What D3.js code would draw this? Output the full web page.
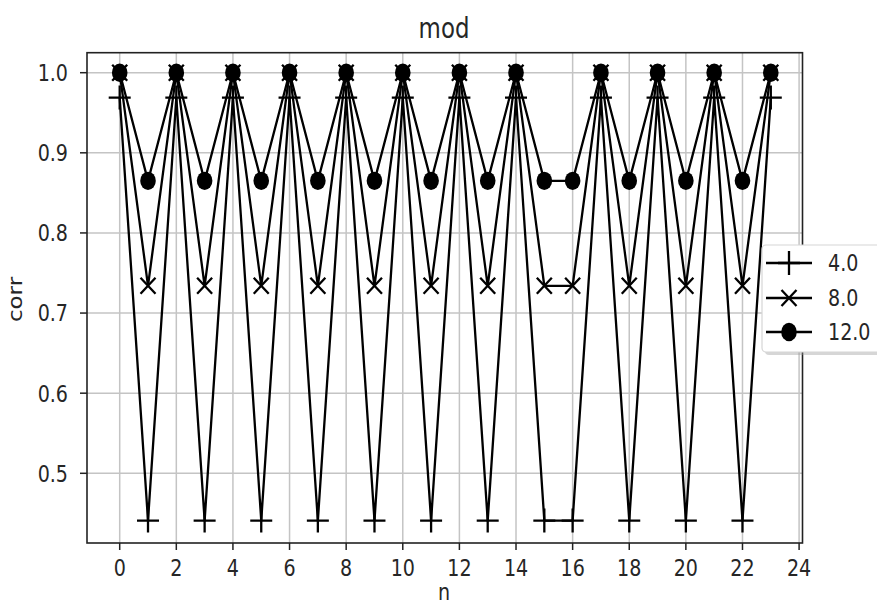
<!DOCTYPE html>
<html>
<head>
<meta charset="utf-8">
<script src="https://cdn.jsdelivr.net/npm/d3@7"></script>
<style>
  html, body { margin: 0; padding: 0; background: #fff; }
  svg { display: block; }
  text { font-family: "DejaVu Sans", sans-serif; fill: #262626; }
</style>
</head>
<body>
<div id="chart"></div>
<script>
// data
const nValues = d3.range(0, 24);
const highIdx = [0, 2, 4, 6, 8, 10, 12, 14, 17, 19, 21, 23];
const seriesNames = ['4.0', '8.0', '12.0'];
const corr4 = nValues.map(n => highIdx.includes(n) ? 0.969 : 0.441);
const corr8 = nValues.map(n => highIdx.includes(n) ? 1.0 : 0.734);
const corr12 = nValues.map(n => highIdx.includes(n) ? 1.0 : 0.865);
const xTicks = [0, 2, 4, 6, 8, 10, 12, 14, 16, 18, 20, 22, 24];
const yTicks = [0.5, 0.6, 0.7, 0.8, 0.9, 1.0];

const W = 877, H = 606;
const plot = { left: 87, right: 802.5, top: 52.7, bottom: 543 };
const SX = 0.83; // picture is squeezed sideways
const FONT = 23;
const LW = 2.3;

const x = d3.scaleLinear().domain([0, 24]).range([119.7, 799.1]);
const y = d3.scaleLinear().domain([0.5, 1.0]).range([473.3, 72.7]);

const svg = d3.select('#chart').append('svg')
  .attr('width', W).attr('height', H);

function label(g, tx, ty, str, size, anchor, rotate) {
  const t = rotate
    ? `translate(${tx},${ty}) rotate(-90) scale(1,${SX})`
    : `translate(${tx},${ty}) scale(${SX},1)`;
  return g.append('text')
    .attr('transform', t)
    .attr('text-anchor', anchor)
    .style('font-size', size + 'px')
    .text(str);
}

function marker(g, kind, cx, cy) {
  if (kind === 'plus') {
    g.append('path')
      .attr('d', `M${cx - 11},${cy}H${cx + 11}M${cx},${cy - 12}V${cy + 12}`)
      .attr('stroke', '#000').attr('stroke-width', LW).attr('fill', 'none');
  } else if (kind === 'x') {
    g.append('path')
      .attr('d', `M${cx - 7.5},${cy - 8}L${cx + 7.5},${cy + 8}M${cx - 7.5},${cy + 8}L${cx + 7.5},${cy - 8}`)
      .attr('stroke', '#000').attr('stroke-width', LW).attr('fill', 'none');
  } else {
    g.append('ellipse')
      .attr('cx', cx).attr('cy', cy).attr('rx', 7.8).attr('ry', 9.2)
      .attr('fill', '#000');
  }
}

// grid
const grid = svg.append('g');
grid.selectAll('.gx').data(xTicks).join('line')
  .attr('x1', d => x(d)).attr('x2', d => x(d))
  .attr('y1', plot.top).attr('y2', plot.bottom)
  .attr('stroke', '#c4c4c4').attr('stroke-width', 1.5);
grid.selectAll('.gy').data(yTicks).join('line')
  .attr('x1', plot.left).attr('x2', plot.right)
  .attr('y1', d => y(d)).attr('y2', d => y(d))
  .attr('stroke', '#c4c4c4').attr('stroke-width', 1.5);

// series
const series = [
  { name: seriesNames[0], values: corr4, kind: 'plus' },
  { name: seriesNames[1], values: corr8, kind: 'x' },
  { name: seriesNames[2], values: corr12, kind: 'dot' },
];
svg.append('clipPath').attr('id', 'clip').append('rect')
  .attr('x', plot.left).attr('y', plot.top)
  .attr('width', plot.right - plot.left).attr('height', plot.bottom - plot.top);
const body = svg.append('g').attr('clip-path', 'url(#clip)');
const line = d3.line().x((d, i) => x(nValues[i])).y(d => y(d));
series.forEach(s => {
  const g = body.append('g');
  g.append('path')
    .attr('d', line(s.values))
    .attr('fill', 'none').attr('stroke', '#000')
    .attr('stroke-width', LW).attr('stroke-linejoin', 'round');
  s.values.forEach((v, i) => marker(g, s.kind, x(nValues[i]), y(v)));
});

// frame
svg.append('rect')
  .attr('x', plot.left).attr('y', plot.top)
  .attr('width', plot.right - plot.left).attr('height', plot.bottom - plot.top)
  .attr('fill', 'none').attr('stroke', '#222').attr('stroke-width', 1.6);

// axes
const ax = svg.append('g');
xTicks.forEach(t => {
  ax.append('line').attr('x1', x(t)).attr('x2', x(t))
    .attr('y1', plot.bottom).attr('y2', plot.bottom + 7)
    .attr('stroke', '#222').attr('stroke-width', 1.5);
  label(ax, x(t), 576, String(t), FONT, 'middle');
});
yTicks.forEach(t => {
  ax.append('line').attr('x1', plot.left - 7).attr('x2', plot.left)
    .attr('y1', y(t)).attr('y2', y(t))
    .attr('stroke', '#222').attr('stroke-width', 1.5);
  label(ax, 68, y(t) + 8.4, d3.format('.1f')(t), FONT, 'end');
});

label(svg, 444, 38, 'mod', 27.6, 'middle');
label(svg, 444, 600, 'n', FONT, 'middle');
label(svg, 22, 299.5, 'corr', FONT, 'middle', true);

// legend
const leg = svg.append('g');
leg.append('rect').attr('x', 765).attr('y', 248).attr('width', 140).attr('height', 107)
  .attr('rx', 4).attr('fill', '#999').attr('opacity', 0.4);
leg.append('rect').attr('x', 762).attr('y', 245).attr('width', 140).attr('height', 107)
  .attr('rx', 4).attr('fill', '#fff').attr('stroke', '#d6d6d6').attr('stroke-width', 1.2);
const legRows = [263, 298, 332];
series.forEach((s, i) => {
  const ly = legRows[i];
  leg.append('line').attr('x1', 766).attr('x2', 812).attr('y1', ly).attr('y2', ly)
    .attr('stroke', '#000').attr('stroke-width', LW);
  marker(leg, s.kind, 789, ly);
  label(leg, 828, ly + 8.4, s.name, FONT, 'start');
});
</script>
</body>
</html>
